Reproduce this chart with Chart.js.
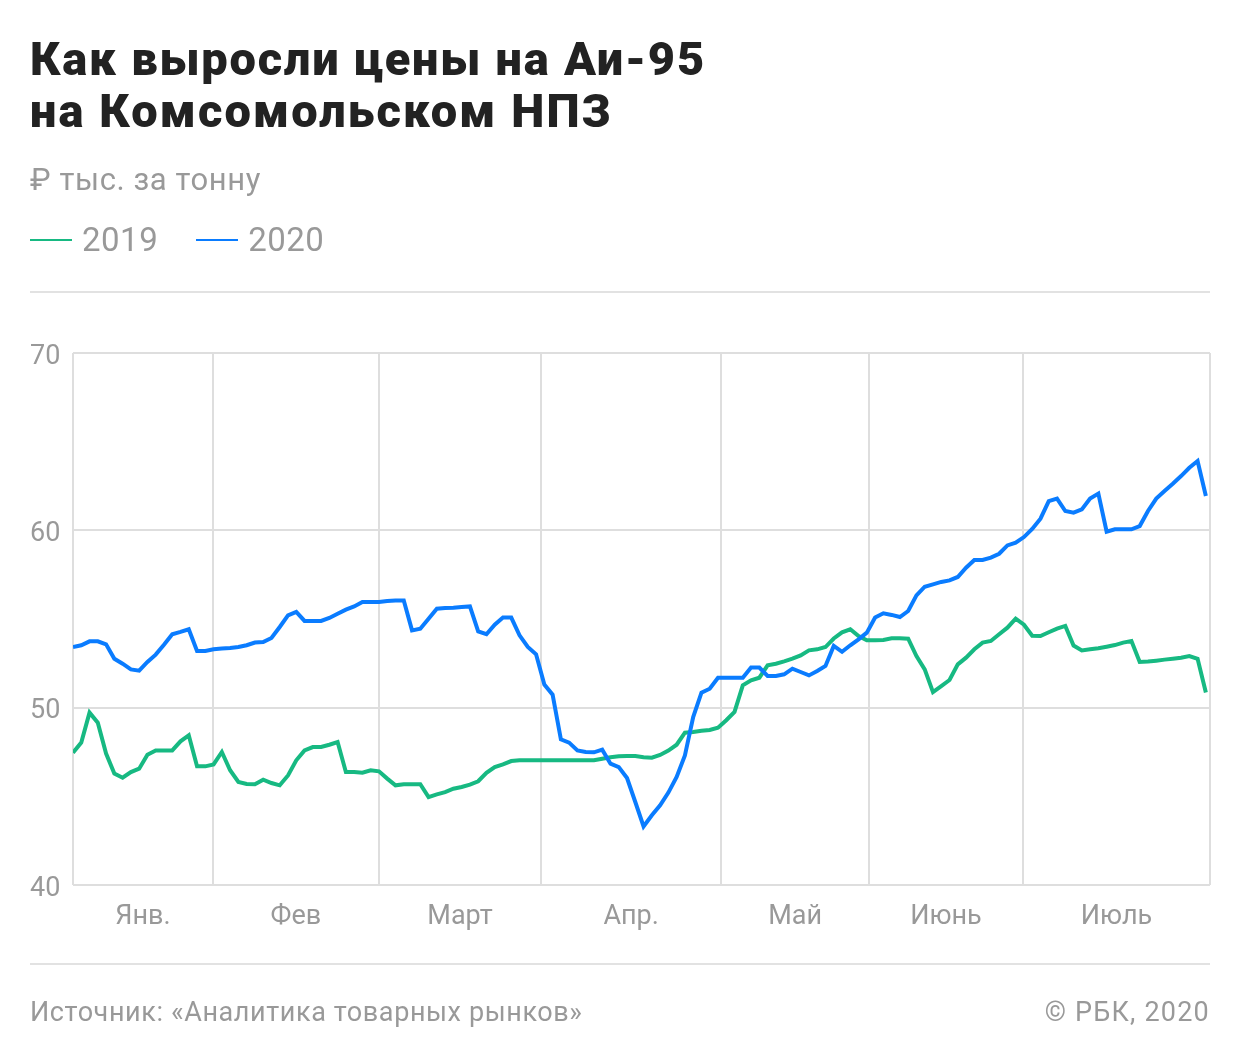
<!DOCTYPE html>
<html><head><meta charset="utf-8">
<script src="https://cdn.jsdelivr.net/npm/chart.js@4/dist/chart.umd.min.js"></script>
<style>
html,body{margin:0;padding:0;background:#fff;}
body{width:1240px;height:1064px;position:relative;overflow:hidden;font-family:Roboto,"Noto Sans",sans-serif;}
#chart{position:absolute;left:0;top:0;}
#title{position:absolute;left:30px;top:33px;font-size:47px;font-weight:900;line-height:52px;letter-spacing:1.8px;color:#222;white-space:nowrap;}
#title .l2{letter-spacing:2.1px;}
#unit{position:absolute;left:30px;top:164px;font-size:31px;line-height:1;letter-spacing:0.6px;color:#999;white-space:nowrap;}
#legend{position:absolute;left:30px;top:222px;font-size:33px;line-height:36px;letter-spacing:0.5px;color:#999;display:flex;align-items:center;white-space:nowrap;}
.sw{display:inline-block;width:42px;height:2px;margin-right:10px;}
.hr{position:absolute;left:30px;width:1180px;height:2px;background:#e2e2e2;}
.foot{position:absolute;top:997px;font-size:27px;line-height:30px;letter-spacing:0.6px;color:#999;white-space:nowrap;}
</style></head>
<body>
<canvas id="chart" width="1240" height="1064"></canvas>
<div id="title">Как выросли цены на Аи-95<br><span class="l2">на Комсомольском НПЗ</span></div>
<div id="unit">₽ тыс. за тонну</div>
<div id="legend"><span class="sw" style="background:#17b982"></span><span style="margin-right:38px">2019</span><span class="sw" style="background:#0a7cff"></span><span>2020</span></div>
<div class="hr" style="top:291px"></div>
<div class="hr" style="top:963px"></div>
<div class="foot" style="left:30px">Источник: «Аналитика товарных рынков»</div>
<div class="foot" style="right:30px;letter-spacing:1.2px">© РБК, 2020</div>
<script>
// Month tick labels and month boundaries (in trading-day index units)
const months = ['Янв.', 'Фев', 'Март', 'Апр.', 'Май', 'Июнь', 'Июль'];
const monthBounds = [0, 16.9, 37, 56.6, 78.4, 96.25, 114.9, 137.5];
const seriesNames = ['2019', '2020'];

// Prices, thousand RUB per tonne, one value per trading day
const values2019 = [
 47.46,48.03,49.72,49.15,47.41,46.28,46.05,46.37,46.56,47.35,
 47.59,47.59,47.59,48.10,48.44,46.69,46.69,46.80,47.50,46.47,
 45.81,45.70,45.68,45.94,45.75,45.62,46.18,47.03,47.59,47.78,
 47.78,47.91,48.06,46.37,46.37,46.33,46.47,46.41,46.00,45.62,
 45.68,45.68,45.68,44.96,45.11,45.24,45.43,45.53,45.66,45.85,
 46.33,46.65,46.80,46.99,47.03,47.03,47.03,47.03,47.03,47.03,
 47.03,47.03,47.03,47.03,47.12,47.20,47.26,47.27,47.27,47.20,
 47.18,47.33,47.58,47.91,48.59,48.63,48.70,48.74,48.87,49.29,
 49.76,51.26,51.54,51.69,52.39,52.48,52.61,52.76,52.95,53.23,
 53.29,53.42,53.90,54.25,54.42,54.04,53.80,53.80,53.82,53.91,
 53.91,53.89,52.91,52.16,50.88,51.22,51.56,52.44,52.82,53.29,
 53.67,53.76,54.14,54.51,55.02,54.68,54.06,54.04,54.25,54.46,
 54.61,53.50,53.23,53.29,53.35,53.44,53.53,53.67,53.76,52.58,
 52.60,52.65,52.71,52.76,52.82,52.91,52.76,50.85
];
const values2020 = [
 53.42,53.52,53.74,53.74,53.57,52.76,52.48,52.16,52.09,52.58,
 52.99,53.55,54.14,54.27,54.42,53.20,53.20,53.29,53.33,53.36,
 53.42,53.52,53.67,53.70,53.93,54.55,55.21,55.40,54.89,54.89,
 54.89,55.06,55.30,55.53,55.71,55.96,55.96,55.96,56.02,56.05,
 56.05,54.36,54.45,55.02,55.58,55.62,55.64,55.68,55.71,54.30,
 54.14,54.68,55.08,55.08,54.08,53.42,53.01,51.30,50.73,48.21,
 48.03,47.59,47.50,47.48,47.63,46.84,46.65,46.03,44.68,43.30,
 43.93,44.49,45.21,46.09,47.31,49.47,50.85,51.07,51.69,51.69,
 51.69,51.69,52.27,52.26,51.79,51.79,51.88,52.20,52.01,51.82,
 52.07,52.35,53.48,53.15,53.52,53.85,54.23,55.08,55.32,55.23,
 55.11,55.45,56.33,56.82,56.95,57.09,57.18,57.37,57.89,58.33,
 58.33,58.46,58.68,59.15,59.30,59.62,60.08,60.66,61.65,61.79,
 61.09,61.00,61.18,61.79,62.07,59.92,60.06,60.06,60.06,60.24,
 61.09,61.79,62.22,62.63,63.06,63.53,63.91,61.94
];
const yTicks = [40, 50, 60, 70];

const toPoints = arr => arr.map((v, i) => ({x: i, y: v}));
const tickFont = {family: 'Roboto', size: 27};

new Chart(document.getElementById('chart'), {
  type: 'line',
  data: {
    datasets: [
      {label: seriesNames[1], data: toPoints(values2020), borderColor: '#0a7cff', order: 0},
      {label: seriesNames[0], data: toPoints(values2019), borderColor: '#17b982', order: 1}
    ]
  },
  options: {
    responsive: false,
    animation: false,
    devicePixelRatio: 1,
    layout: {padding: {left: 30, right: 30, top: 353, bottom: 119}},
    elements: {
      point: {radius: 0},
      line: {borderWidth: 4, tension: 0, fill: false}
    },
    plugins: {legend: {display: false}, tooltip: {enabled: false}},
    scales: {
      x: {
        type: 'linear',
        min: monthBounds[0],
        max: monthBounds[monthBounds.length - 1],
        afterBuildTicks: axis => {
          const t = [];
          monthBounds.forEach((b, k) => {
            t.push({value: b});
            if (k < months.length) t.push({value: (b + monthBounds[k + 1]) / 2});
          });
          axis.ticks = t;
        },
        afterFit: axis => { axis.height = 60; },
        grid: {
          color: ctx => (ctx.index % 2 === 0 ? '#dedede' : 'rgba(0,0,0,0)'),
          lineWidth: 2,
          drawTicks: false
        },
        border: {display: false},
        ticks: {
          autoSkip: false,
          maxRotation: 0,
          padding: 16,
          color: '#999',
          font: tickFont,
          callback: (v, i) => (i % 2 ? months[(i - 1) / 2] : '')
        }
      },
      y: {
        min: yTicks[0],
        max: yTicks[yTicks.length - 1],
        afterBuildTicks: axis => { axis.ticks = yTicks.map(v => ({value: v})); },
        afterFit: axis => { axis.width = 43; },
        grid: {color: '#dedede', lineWidth: 2, drawTicks: false},
        border: {display: false},
        ticks: {color: '#999', font: tickFont, crossAlign: 'far', padding: 0, labelOffset: 4}
      }
    }
  }
});
</script>
</body></html>
